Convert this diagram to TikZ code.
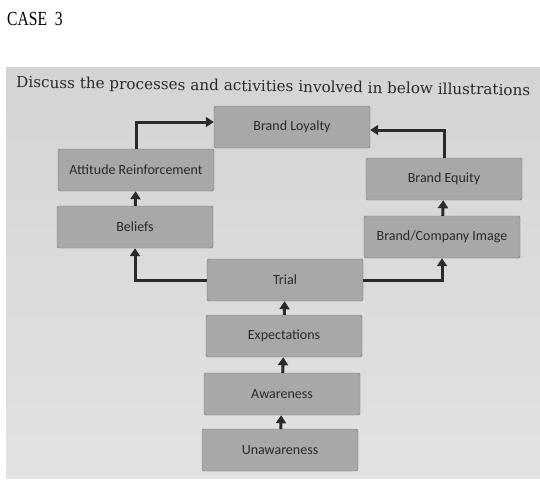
\documentclass[tikz,border=0pt]{standalone}
\usepackage{fontspec}
\usepackage{graphicx}
\setmainfont{Liberation Serif}
\newfontfamily\boxfont{Carlito}
\newfontfamily\promptfont{DejaVu Serif}
\usetikzlibrary{arrows.meta}
\definecolor{paper}{HTML}{D4D4D4}
\definecolor{paperlow}{HTML}{E2E2E2}
\definecolor{boxfill}{HTML}{A8A8A8}
\definecolor{boxline}{HTML}{737373}
\definecolor{ink}{HTML}{2A2A2A}
\begin{document}
\begin{tikzpicture}[x=1pt,y=-1pt,
    stage/.style={draw=boxline,fill=boxfill,rounded corners=1.5pt,
      minimum width=156pt,minimum height=42pt,inner sep=0pt,
      font=\boxfont\fontsize{14}{16}\selectfont,text=ink},
    flow/.style={draw=ink,line width=3pt,
      -{Triangle[length=8pt,width=10pt]}}]
  \useasboundingbox (0,0) rectangle (540,482);
  \fill[white] (0,0) rectangle (540,482);
  \shade[top color=paper,bottom color=paperlow] (6,67) rectangle (540,478);
  \node[anchor=base west,inner sep=0pt] (case) at (7,25.5)
    {\scalebox{0.78}[1]{\fontsize{20}{22}\selectfont CASE~~3}};
  \node[anchor=base west,inner sep=0pt,rotate=-0.9,text=ink] (prompt) at (16,87.5)
    {\promptfont\fontsize{15.2}{17}\selectfont Discuss the processes and activities involved in below illustrations};
  \path
    (292,127) node[stage] (loyalty){Brand Loyalty}
    (136,170) node[stage] (attitude){Attitude Reinforcement}
    (135,227) node[stage] (beliefs){Beliefs}
    (444,179) node[stage] (equity){Brand Equity}
    (442,237) node[stage] (image){Brand/Company Image}
    (285,280) node[stage] (trial){Trial}
    (284,336) node[stage] (expect){Expectations}
    (282,394) node[stage] (aware){Awareness}
    (280,450) node[stage] (unaware){Unawareness};
  \begin{scope}[flow]
    \draw (unaware) to (aware);
    \draw (aware) to (expect);
    \draw (expect) to (trial);
    \draw (trial.west) -| (beliefs.south);
    \draw (trial.east) -| (image.south);
    \draw (beliefs) to (attitude);
    \draw (image) to (equity);
    \draw (attitude.north) |- ([yshift=5pt]loyalty.west);
    \draw (equity.north) |- ([yshift=-3pt]loyalty.east);
  \end{scope}
\end{tikzpicture}
\end{document}
